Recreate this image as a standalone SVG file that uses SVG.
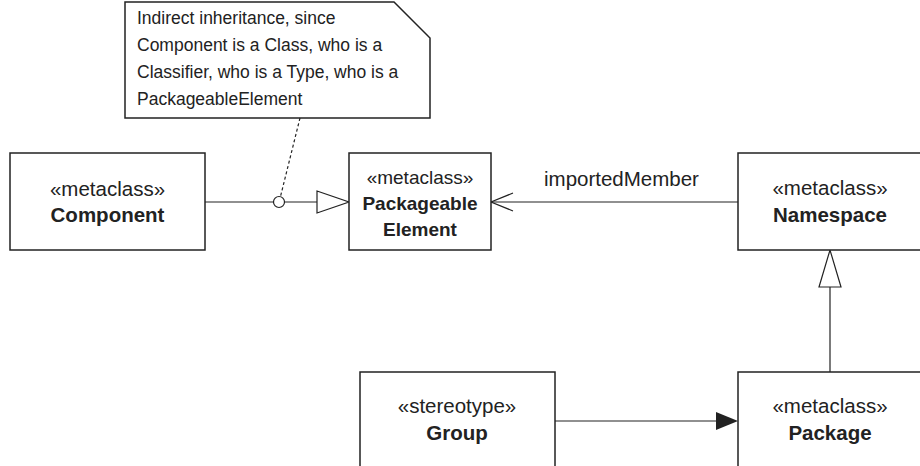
<svg xmlns="http://www.w3.org/2000/svg" width="920" height="466" viewBox="0 0 920 466">
<style>
.box{fill:#fff;stroke:#222;stroke-width:1.5}
.ln{fill:none;stroke:#222;stroke-width:1.2}
.t{font-family:"Liberation Sans",Arial,sans-serif;font-size:20.5px;fill:#222;text-anchor:middle}
.b{font-weight:bold}
.s{font-size:19px}
.n{font-family:"Liberation Sans",Arial,sans-serif;font-size:17.5px;fill:#222}
</style>
<rect width="920" height="466" fill="#fff"/>
<g id="note">
<path class="box" d="M125,2 H394 L430,38 V118 H125 Z"/>
<text class="n" x="137" y="24">Indirect inheritance, since</text>
<text class="n" x="137" y="51">Component is a Class, who is a</text>
<text class="n" x="137" y="78">Classifier, who is a Type, who is a</text>
<text class="n" x="137" y="105">PackageableElement</text>
</g>
<g id="connectors">
<line class="ln" x1="300" y1="118" x2="280.5" y2="196.5" stroke-dasharray="3,2.5"/>
<line class="ln" x1="205" y1="202" x2="273.5" y2="202"/>
<circle class="ln" cx="279" cy="202" r="5.5"/>
<line class="ln" x1="284.5" y1="202" x2="317" y2="202"/>
<path class="ln" d="M317,191 L349,202 L317,213 Z"/>
<line class="ln" x1="491" y1="202" x2="738" y2="202"/>
<path class="ln" d="M513,193 L491,202 L513,211"/>
<text class="n" x="544" y="186" style="font-size:20.5px">importedMember</text>
<line class="ln" x1="830" y1="287" x2="830" y2="372"/>
<path class="ln" d="M819,287 L830,250 L841,287 Z"/>
<line class="ln" x1="555" y1="421" x2="716" y2="421"/>
<path d="M716,412 L738,421 L716,430 Z" fill="#222"/>
</g>
<g id="component">
<rect class="box" x="10" y="153" width="195" height="97"/>
<text class="t" x="107.5" y="196">«metaclass»</text>
<text class="t b" x="107.5" y="222">Component</text>
</g>
<g id="packageable-element">
<rect class="box" x="349" y="153" width="142" height="97"/>
<text class="t s" x="420" y="184">«metaclass»</text>
<text class="t b s" x="420" y="210">Packageable</text>
<text class="t b s" x="420" y="236">Element</text>
</g>
<g id="namespace">
<rect class="box" x="738" y="153" width="192" height="97"/>
<text class="t" x="830" y="195">«metaclass»</text>
<text class="t b" x="830" y="222">Namespace</text>
</g>
<g id="group">
<rect class="box" x="360" y="372" width="195" height="100"/>
<text class="t" x="457" y="413">«stereotype»</text>
<text class="t b" x="457" y="440">Group</text>
</g>
<g id="package">
<rect class="box" x="738" y="372" width="192" height="100"/>
<text class="t" x="830" y="413">«metaclass»</text>
<text class="t b" x="830" y="440">Package</text>
</g>
</svg>
